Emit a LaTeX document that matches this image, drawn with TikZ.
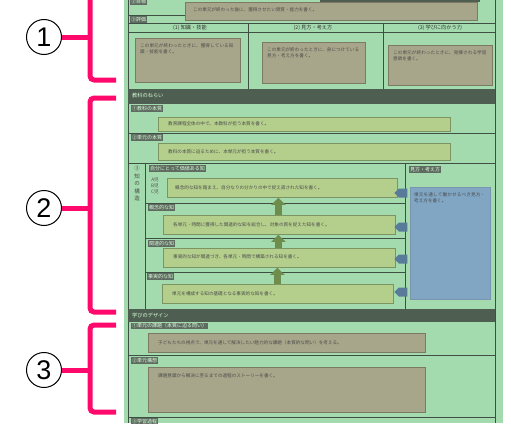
\documentclass[tikz,border=0pt]{standalone}
\usepackage{fontspec}
\newfontfamily\jp{Noto Sans CJK JP}
\setsansfont{Liberation Sans}
\XeTeXlinebreaklocale "ja"
\XeTeXlinebreakskip=0pt plus 1pt
\usetikzlibrary{shapes.symbols,arrows.meta}
\definecolor{slide}{HTML}{A4DBAE}
\definecolor{barc}{HTML}{4E5E50}
\definecolor{khaki}{HTML}{A8A68A}
\definecolor{khakiedge}{HTML}{7C7A62}
\definecolor{ygreen}{HTML}{B4CF8C}
\definecolor{ygedge}{HTML}{7C9462}
\definecolor{bluebox}{HTML}{80A6C4}
\definecolor{tabblue}{HTML}{5A7A9A}
\definecolor{arrowg}{HTML}{6E8C4C}
\definecolor{lblc}{HTML}{5F6B61}
\definecolor{rulec}{HTML}{3E5044}
\definecolor{brk}{HTML}{FF0A6C}
\tikzset{
 kbox/.style={draw=khakiedge, fill=khaki, line width=0.8pt, anchor=north west, inner sep=0pt},
 gbox/.style={draw=ygedge, fill=ygreen, line width=0.8pt, anchor=north west, inner sep=0pt},
 bbox/.style={draw=tabblue!80, fill=bluebox, line width=0.8pt, anchor=north west, inner sep=0pt},
 lbl/.style={fill=lblc, text=white!85!green, font=\jp\fontsize{5}{6}\selectfont, inner sep=1pt, anchor=north west},
 hdr/.style={text=black!80, font=\jp\fontsize{5.2}{6}\selectfont, inner sep=0.5pt},
 txt/.style={font=\jp\fontsize{4.6}{6}\selectfont, text=black!70, anchor=north west, align=left, inner sep=0pt},
 bartxt/.style={font=\jp\fontsize{5.2}{6}\selectfont, text=white!85!green, anchor=west, inner sep=1pt},
 rl/.style={draw=rulec, line width=0.9pt},
 uparrow/.style={draw=arrowg, line width=7pt, -{Triangle[width=14pt,length=7pt]}},
 tab/.style={signal, signal to=west, fill=tabblue, minimum width=13pt, minimum height=9pt, inner sep=0pt},
 brkline/.style={draw=brk, line width=5pt, rounded corners=4pt},
 numc/.style={circle, draw=black, line width=1pt, fill=white, minimum size=35pt, inner sep=0pt, font=\sffamily\fontsize{27}{27}\selectfont}
}
\begin{document}
\begin{tikzpicture}[x=1pt,y=-1pt]
\useasboundingbox (0,0) rectangle (511,423);
\fill[white] (0,0) rectangle (511,423);
\fill[slide] (124,0) rectangle (503,423);
% frame
\draw[rl] (128,0) -- (128,423);
\draw[rl] (495,0) -- (495,423);
% ---- section 1
\fill[barc] (320,0) rectangle (480,2);
\node[lbl] (l0) at (130,-2) {②目標};
\node[kbox, minimum width=292pt, minimum height=18pt] (goal) at (185,2) {};
\node[txt] (goalt) at ([shift={(8,5)}]goal.north west) {この単元が終わった後に、獲得させたい資質・能力を書く。};
\draw[rl] (128,15) -- (goal.west |- 0,15);
\node[lbl] (l1) at (130,16) {③評価};
\draw[rl] (128,23) -- (495,23);
\draw[rl] (128,32) -- (495,32);
\draw[rl] (248,23) -- (248,89);
\draw[rl] (383,23) -- (383,89);
\node[hdr] (h1) at (190,27.5) {(1) 知識・技能};
\node[hdr] (h2) at (313,27.5) {(2) 見方・考え方};
\node[hdr] (h3) at (440,27.5) {(3) 学びに向かう力};
\node[kbox, minimum width=105pt, minimum height=44pt] (c1) at (135,38) {};
\node[kbox, minimum width=103pt, minimum height=41pt] (c2) at (262,42) {};
\node[kbox, minimum width=104pt, minimum height=40pt] (c3) at (388,45) {};
\node[txt, text width=94pt] (c1t) at ([shift={(5,5)}]c1.north west) {この単元が終わったときに、獲得している知識・技能を書く。};
\node[txt, text width=92pt] (c2t) at ([shift={(5,5)}]c2.north west) {この単元が終わったときに、身につけている見方・考え方を書く。};
\node[txt, text width=94pt] (c3t) at ([shift={(5,5)}]c3.north west) {この単元が終わったときに、発揮される学習意欲を書く。};
% ---- section 2
\fill[barc] (128,89) rectangle (495,104);
\node[bartxt] (s2) at (131,96) {教科のねらい};
\node[lbl] (l21) at (131,105) {①教科の本質};
\node[gbox, minimum width=292pt, minimum height=14pt] (g1) at (158,117) {};
\node[txt] (g1t) at ([shift={(10,4.5)}]g1.north west) {教育課程全体の中で、本教科が担う本質を書く。};
\draw[rl] (128,133) -- (495,133);
\node[lbl] (l22) at (131,134) {②単元の本質};
\node[gbox, minimum width=292pt, minimum height=17pt] (g2) at (158,143) {};
\node[txt] (g2t) at ([shift={(10,6)}]g2.north west) {教科の本質に迫るために、本単元が担う本質を書く。};
\draw[rl] (128,163) -- (495,163);
% knowledge structure
\draw[rl] (145,163) -- (145,309);
\draw[rl] (405,163) -- (405,309);
\node[font=\jp\fontsize{5.5}{7.5}\selectfont, text=black!70, align=center, inner sep=0pt, anchor=north] (vk) at (137,166) {③\\知\\の\\構\\造};
\node[lbl] (l31) at (149,165) {自分にとって価値ある知};
\node[font=\jp\fontsize{4.6}{5.8}\selectfont, text=black!70, align=center, inner sep=0pt, anchor=north west] (abc) at (151,178) {A児\\B児\\C児};
\node[gbox, minimum width=230pt, minimum height=19pt] (g3) at (167,178) {};
\node[txt] (g3t) at ([shift={(8,7)}]g3.north west) {概念的な知を踏まえ、自分なりの分かりの中で捉え直された知を書く。};
\draw[rl] (145,203) -- (405,203);
\node[lbl] (l32) at (148,204) {概念的な知};
\node[gbox, minimum width=232pt, minimum height=19pt] (g4) at (163,215) {};
\node[txt] (g4t) at ([shift={(10,7)}]g4.north west) {各単元・時間に獲得した関連的な知を総合し、対象の質を捉えた知を書く。};
\draw[rl] (145,238) -- (405,238);
\node[lbl] (l33) at (148,240) {関連的な知};
\node[gbox, minimum width=232pt, minimum height=19pt] (g5) at (163,248) {};
\node[txt] (g5t) at ([shift={(10,6)}]g5.north west) {事実的な知が関連づき、各単元・時間で構築される知を書く。};
\draw[rl] (145,272) -- (405,272);
\node[lbl] (l34) at (147,273) {事実的な知};
\node[gbox, minimum width=231pt, minimum height=19pt] (g6) at (162,284) {};
\node[txt] (g6t) at ([shift={(10,7)}]g6.north west) {単元を構成する知の基礎となる事実的な知を書く。};
% up arrows between levels
\draw[uparrow] ([xshift=-1pt]g4.north) -- ([xshift=-1pt]g4.north |- g3.south);
\draw[uparrow] ([xshift=-1pt]g5.north) -- ([xshift=-1pt]g5.north |- g4.south);
\draw[uparrow] ([xshift=-0.5pt]g6.north) -- ([xshift=-0.5pt]g6.north |- g5.south);
\node[lbl] (l35) at (409,166) {見方・考え方};
\node[bbox, minimum width=80pt, minimum height=112pt] (bb) at (410,187) {};
\node[txt, text width=72pt] (bbt) at ([shift={(4,5)}]bb.north west) {単元を通して働かせるべき見方・考え方を書く。};
\node[tab] (t1) at (403,193) {};
\node[tab] (t2) at (403,227) {};
\node[tab] (t3) at (403,259) {};
\node[tab] (t4) at (403,292) {};
% ---- section 3
\fill[barc] (128,309) rectangle (495,322);
\node[bartxt] (s3) at (131,315.5) {学びのデザイン};
\node[lbl] (l41) at (131,322.5) {①単元の課題（本質に迫る問い）};
\node[kbox, minimum width=277pt, minimum height=19pt] (k1) at (148,333) {};
\node[txt] (k1t) at ([shift={(10,7)}]k1.north west) {子どもたちの視点で、単元を通して解決したい魅力的な課題（本質的な問い）を考える。};
\draw[rl] (128,355) -- (495,355);
\node[lbl] (l42) at (131,357) {②単元構想};
\node[kbox, minimum width=277pt, minimum height=45pt] (k2) at (148,367) {};
\node[txt] (k2t) at ([shift={(10,6)}]k2.north west) {課題意識から解決に至るまでの過程のストーリーを書く。};
\draw[rl] (128,417) -- (495,417);
\node[lbl] (l43) at (131,418) {③学習過程};
% ---- brackets
\coordinate (m1) at (90,37);
\coordinate (m2) at (90,208);
\coordinate (m3) at (90,370);
\draw[brkline] (90,-6) -- (90,80) -- (116,80);
\draw[brkline] (116,98) -- (90,98) -- (90,312) -- (116,312);
\draw[brkline] (116,325) -- (90,325) -- (90,412) -- (116,412);
\node[numc] (n1) at (44,37) {1};
\node[numc] (n2) at (44,208) {2};
\node[numc] (n3) at (44,370) {3};
\draw[brkline] (n1.east) -- (m1);
\draw[brkline] (n2.east) -- (m2);
\draw[brkline] (n3.east) -- (m3);
\end{tikzpicture}
\end{document}
